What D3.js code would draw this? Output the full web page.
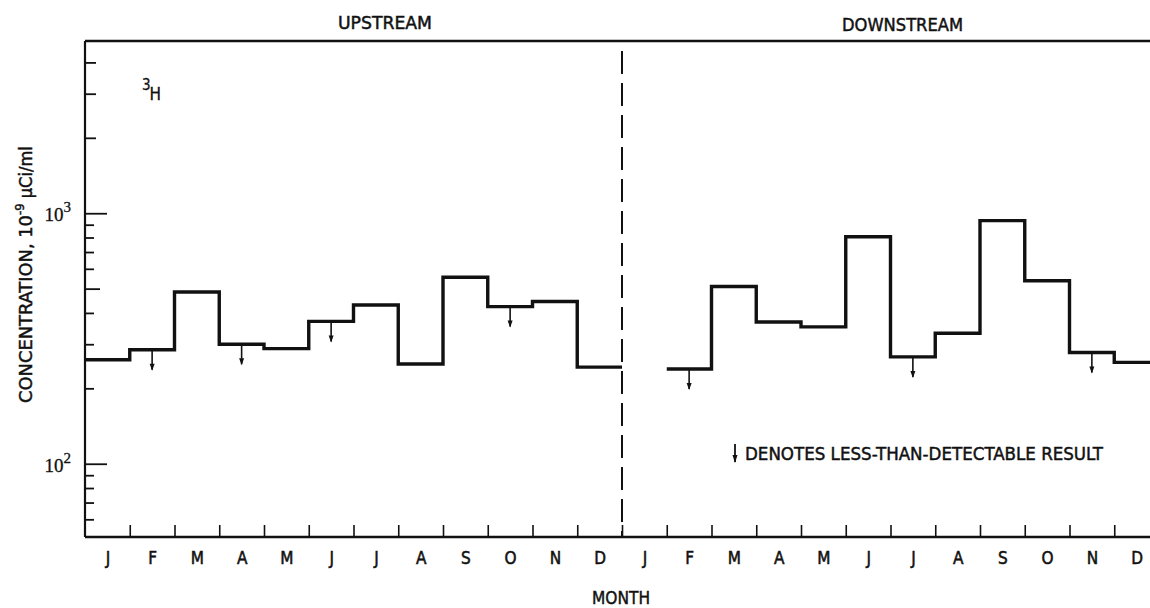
<!DOCTYPE html>
<html>
<head>
<meta charset="utf-8">
<script src="https://cdn.jsdelivr.net/npm/d3@7"></script>
<style>
  html, body { margin: 0; padding: 0; background: #fff; }
  svg { display: block; }
  text { font-family: "DejaVu Sans Condensed", "Liberation Sans Narrow", "Arial Narrow", sans-serif; fill: #111; stroke: #111; stroke-width: 0.45px; }
</style>
</head>
<body>
<svg id="chart" width="1150" height="608"></svg>
<script>
// ---- data ----
const months = ["J","F","M","A","M","J","J","A","S","O","N","D"];
const panels = ["UPSTREAM", "DOWNSTREAM"];
const upstream = [260, 285, 485, 300, 288, 370, 430, 250, 555, 424, 444, 243];
const upstreamLTD = [false, true, false, true, false, true, false, false, false, true, false, false];
const downstream = [null, 239, 510, 368, 352, 806, 267, 332, 934, 538, 278, 254];
const downstreamLTD = [false, true, false, false, false, false, true, false, false, false, true, false];
const yMinorTicks = [60, 70, 80, 90, 200, 300, 400, 500, 600, 700, 800, 900, 2000, 3000, 4000];
const yMajorTicks = [100, 1000];
const yDomain = [51, 4870];
const nuclide = "H";
const legendText = "DENOTES LESS-THAN-DETECTABLE RESULT";

// ---- layout ----
const mLeft = 85, mRight = 1159, mTop = 41, mBottom = 537;
const svg = d3.select("#chart");

const x = d3.scaleLinear().domain([0, 24]).range([mLeft, mRight]);
const y = d3.scaleLog().domain(yDomain).range([mBottom, mTop]);

function steps(vals, offset) {
  const pts = [];
  vals.forEach((v, i) => {
    pts.push({ m: offset + i, v });
    pts.push({ m: offset + i + 1, v });
  });
  return pts;
}
const line = d3.line()
  .defined(d => d.v != null)
  .x(d => x(d.m))
  .y(d => y(d.v));

// top border
svg.append("line").attr("x1", mLeft).attr("x2", 1150).attr("y1", mTop).attr("y2", mTop)
  .attr("stroke", "#111").attr("stroke-width", 2.4);

// Y axis
const yAxis = d3.axisRight(y)
  .tickValues(yMinorTicks.concat(yMajorTicks))
  .tickSize(9)
  .tickFormat("");
const gy = svg.append("g").attr("transform", `translate(${mLeft},0)`).call(yAxis);
gy.select(".domain").remove();
gy.selectAll(".tick line")
  .attr("stroke", "#111")
  .attr("stroke-width", 1.8)
  .attr("x2", d => yMajorTicks.includes(d) ? 22 : (d === 500 ? 15 : (d >= 2000 ? 11 : 9)));
svg.append("line").attr("x1", mLeft).attr("x2", mLeft).attr("y1", mTop).attr("y2", mBottom)
  .attr("stroke", "#111").attr("stroke-width", 2.2);

// y tick labels 10^2, 10^3
yMajorTicks.forEach(v => {
  const t = svg.append("text")
    .attr("x", 71).attr("y", y(v) + 8)
    .attr("text-anchor", "end")
    .style("font-family", "'Liberation Serif', serif")
    .style("stroke-width", "0.3px")
    .style("font-size", "19px");
  t.append("tspan").text("10");
  t.append("tspan").attr("dy", -9).style("font-size", "15px").text(String(Math.round(Math.log10(v))));
});

// X axis: tick marks at month boundaries
const xAxis = d3.axisTop(x)
  .tickValues(d3.range(1, 24))
  .tickSize(12)
  .tickFormat("");
const gx = svg.append("g").attr("transform", `translate(0,${mBottom})`).call(xAxis);
gx.select(".domain").remove();
gx.selectAll(".tick line").attr("stroke", "#111").attr("stroke-width", 1.6);
svg.append("line").attr("x1", mLeft).attr("x2", 1150).attr("y1", mBottom).attr("y2", mBottom)
  .attr("stroke", "#111").attr("stroke-width", 2.6);

// month labels
const monthLabels = d3.range(24).map(i => ({ m: i + 0.5, t: months[i % 12] }));
const gxl = svg.append("g").attr("transform", `translate(0,${mBottom})`)
  .call(d3.axisBottom(x).tickValues(monthLabels.map(d => d.m)).tickSize(0)
    .tickFormat((d, i) => monthLabels[i].t));
gxl.select(".domain").remove();
gxl.selectAll(".tick text")
  .attr("y", 15)
  .attr("dy", "0.71em")
  .style("font-size", "17px")
  .style("font-family", "'DejaVu Sans Condensed', sans-serif")
  .style("stroke", "#111")
  .style("stroke-width", "0.5px")
  .attr("fill", "#111");

// divider dashed line
svg.append("line").attr("x1", x(12)).attr("x2", x(12)).attr("y1", mTop + 10).attr("y2", mBottom)
  .attr("stroke", "#111").attr("stroke-width", 2).attr("stroke-dasharray", "23,9");

// step lines
svg.append("path").datum(steps(upstream, 0)).attr("d", line)
  .attr("fill", "none").attr("stroke", "#111").attr("stroke-width", 3.4).attr("stroke-linejoin", "miter");
svg.append("path").datum(steps(downstream, 12)).attr("d", line)
  .attr("fill", "none").attr("stroke", "#111").attr("stroke-width", 3.4).attr("stroke-linejoin", "miter");

// less-than-detectable arrows
function arrows(vals, flags, offset) {
  vals.forEach((v, i) => {
    if (!flags[i] || v == null) return;
    const cx = x(offset + i + 0.5), y0 = y(v);
    svg.append("line").attr("x1", cx).attr("x2", cx).attr("y1", y0).attr("y2", y0 + 20)
      .attr("stroke", "#111").attr("stroke-width", 1.6);
    svg.append("path")
      .attr("d", `M${cx - 2.5},${y0 + 14} L${cx + 2.5},${y0 + 14} L${cx},${y0 + 21} Z`)
      .attr("fill", "#111");
  });
}
arrows(upstream, upstreamLTD, 0);
arrows(downstream, downstreamLTD, 12);

// panel titles
svg.append("text").attr("x", 338).attr("y", 29)
  .attr("textLength", 94).attr("lengthAdjust", "spacingAndGlyphs")
  .style("font-size", "18px").text(panels[0]);
svg.append("text").attr("x", 842).attr("y", 31)
  .attr("textLength", 121).attr("lengthAdjust", "spacingAndGlyphs")
  .style("font-size", "18px").text(panels[1]);

// nuclide label
const nl = svg.append("text").attr("x", 142).attr("y", 100).style("font-size", "17px").style("stroke-width", "0.3px");
nl.append("tspan").attr("dy", -10).style("font-size", "15px").text("3");
nl.append("tspan").attr("dy", 10).attr("dx", -1).text(nuclide);

// y axis title
const yt = svg.append("text")
  .attr("transform", `translate(32,403) rotate(-90)`)
  .style("font-size", "18px");
yt.append("tspan").attr("textLength", 188).attr("lengthAdjust", "spacingAndGlyphs").text("CONCENTRATION, 10");
yt.append("tspan").attr("dy", -8).style("font-size", "13px").text("-9");
yt.append("tspan").attr("dy", 8).text(" \u00B5Ci/ml");

// x axis title
svg.append("text").attr("x", 592).attr("y", 604)
  .attr("textLength", 58).attr("lengthAdjust", "spacingAndGlyphs")
  .style("font-size", "18px").text("MONTH");

// legend
svg.append("line").attr("x1", 735).attr("x2", 735).attr("y1", 444).attr("y2", 462)
  .attr("stroke", "#111").attr("stroke-width", 1.8);
svg.append("path").attr("d", "M732.5,455 L737.5,455 L735,463 Z").attr("fill", "#111");
svg.append("text").attr("x", 745).attr("y", 460)
  .attr("textLength", 358).attr("lengthAdjust", "spacingAndGlyphs")
  .style("font-size", "18px").text(legendText);
</script>
</body>
</html>
